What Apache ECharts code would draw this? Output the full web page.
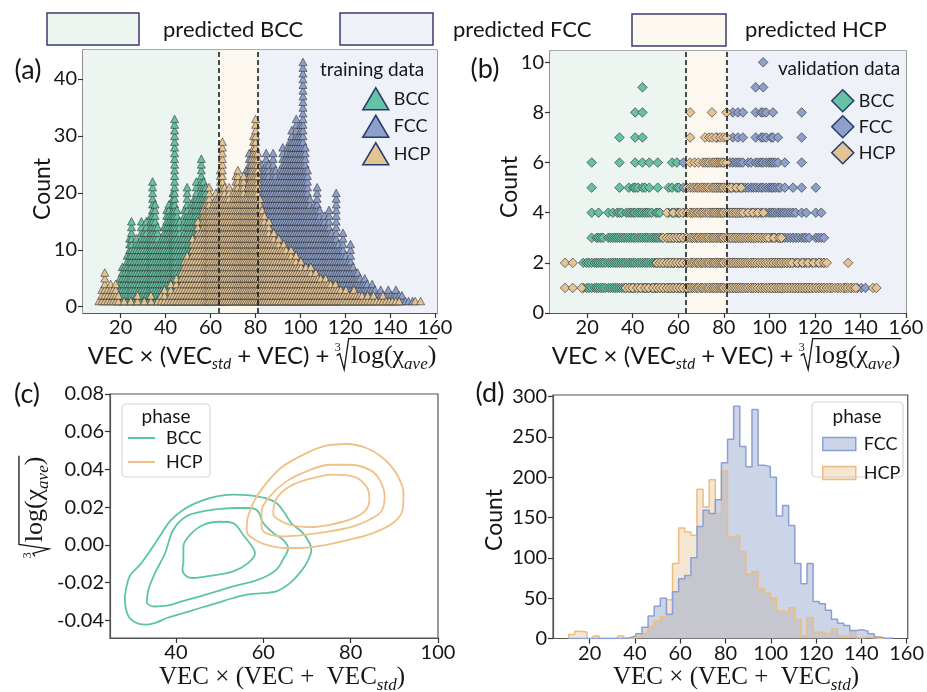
<!DOCTYPE html>
<html><head><meta charset="utf-8">
<script src="https://cdn.jsdelivr.net/npm/echarts/dist/echarts.min.js"></script>
<style>html,body{margin:0;padding:0;background:#fff}#c{width:927px;height:692px}</style>
</head><body><div id="c"></div>
<script>
// ---------------- DATA ----------------
// tick labels
const xTicksAB = [20,40,60,80,100,120,140,160];
const yTicksA = [0,10,20,30,40];
const yTicksB = [0,2,4,6,8,10];
const xTicksC = [40,60,80,100];
const yTicksC = [-0.04,-0.02,0,0.02,0.04,0.06,0.08];
const xTicksD = [20,40,60,80,100,120,140,160];
const yTicksD = [0,50,100,150,200,250,300];
const phaseBounds = [63.5, 81.2];
const phases = ['BCC','FCC','HCP'];

// (a) training data: [x value, count of samples stacked at that x]
const trainBCC = [[18.5,3],[19.6,5],[20.7,7],[21.8,7],[22.9,9],[24.0,12],[24.8,15],[25.9,10],[27.0,12],[28.1,11],[29.2,15],[30.3,13],[31.4,15],[32.5,12],[33.4,16],[34.2,22],[35.3,18],[36.4,14],[37.4,11],[38.4,12],[39.4,14],[40.5,17],[41.5,18],[42.5,16],[43.3,20],[44.0,33],[45.0,17],[46.2,15],[47.3,12],[48.4,17],[49.6,21],[50.6,16],[51.7,18],[52.8,19],[53.7,22],[54.8,19],[55.9,26],[56.9,22],[57.9,21],[59.0,15],[60.1,17],[61.2,16],[62.3,19],[63.4,11],[64.5,8],[65.6,5],[66.8,3],[68.0,2]];
const trainFCC = [[40,1],[44.5,2],[48,2],[52,3],[55,4],[58,5],[61,6],[64,8],[66,10],[68,11],[70,13],[71.5,15],[73,17],[74.5,20],[76,24],[77.3,27],[78.4,25],[79.5,28],[80.6,24],[81.6,22],[82.6,25],[83.7,24],[84.8,27],[85.9,25],[86.9,22],[87.9,27],[89.0,24],[90.0,22],[91.1,24],[92.2,28],[93.3,26],[94.3,28],[95.3,29],[96.2,31],[97.2,29],[98.2,33],[99.2,30],[100.2,32],[101.2,43],[102.2,28],[103.2,24],[104.2,19],[105.3,17],[106.4,18],[107.5,21],[108.6,17],[109.7,15],[110.8,16],[111.8,14],[112.8,17],[113.9,13],[115.0,12],[116.0,20],[117.0,11],[118.0,10],[119.0,13],[120.2,9],[121.3,8],[122.4,11],[123.5,7],[124.5,6],[125.5,6],[126.6,5],[127.7,4],[128.7,5],[129.8,4],[130.9,3],[132.0,4],[133.2,3],[134.5,2],[135.8,3],[137.0,2],[138.2,2],[139.2,3],[140.4,2],[141.6,2],[142.6,3],[144,2],[145.3,2],[146.8,1],[148.2,1],[150,1]];
const trainHCP = [[10.3,1],[11.6,3],[12.9,6],[14.2,3],[15.5,4],[16.6,3],[17.8,4],[19.0,2],[21.5,1],[24.5,1],[27.5,2],[30.5,1],[33.5,2],[36.5,1],[38,2],[39.5,3],[41,1],[42.3,4],[43.5,2],[44.8,5],[46,3],[47.2,6],[48.4,8],[49.6,9],[50.8,8],[52,12],[53.2,11],[54.4,15],[55.6,13],[56.8,17],[57.8,18],[58.7,19],[59.4,21],[60.4,17],[61.4,18],[62.4,20],[63.4,19],[64.4,24],[65.3,29],[66.3,21],[67.3,19],[68.3,21],[69.3,18],[70.3,20],[71.3,23],[72.2,24],[73.1,20],[74.0,22],[74.8,23],[75.7,19],[76.6,21],[77.5,23],[78.3,26],[79.2,30],[80.1,33],[81.0,27],[82.0,19],[83.0,17],[84.0,16],[85.0,14],[86.0,15],[87.1,12],[88.2,13],[89.3,11],[90.4,12],[91.5,10],[92.6,11],[93.7,10],[94.8,9],[95.9,10],[97.0,8],[98.1,9],[99.2,7],[100.3,8],[101.4,6],[102.5,7],[103.6,6],[104.7,7],[105.8,5],[106.9,6],[108.0,5],[109.1,5],[110.2,4],[111.3,5],[112.4,4],[113.5,4],[114.6,3],[115.7,4],[116.8,3],[118.0,3],[119.1,2],[120.3,3],[121.5,2],[122.7,2],[123.9,3],[125.1,2],[126.3,2],[127.5,2],[128.7,1],[130,2],[131.3,1],[132.6,2],[134,1],[135.4,1],[136.8,2],[138.2,1],[139.6,1],[141,1],[142.5,1],[144,1],[151.2,1],[153.6,1]];

// (b) validation data: [x value, count]
const validBCC = [[18.3,2],[19.8,2],[20.8,2],[22.0,6],[23.3,2],[24.2,3],[25.0,4],[26.0,3],[27.0,3],[28.0,2],[29.3,4],[30.3,3],[31.3,4],[32.3,3],[33.2,4],[34.2,7],[35.2,4],[36.2,3],[37.2,4],[38.3,5],[39.3,4],[40.3,5],[41.1,8],[42.3,5],[43.3,4],[44.3,9],[45.4,5],[46.3,4],[47.3,6],[48.4,4],[49.3,3],[50.2,4],[51.0,6],[52.0,4],[53.0,3],[54.0,2],[55.0,3],[55.8,5],[56.6,3],[57.3,6],[58.3,4],[59.4,6],[60.3,5],[61.2,3],[62.2,2],[63.3,2],[64.5,1]];
const validFCC = [[45.0,1],[50.0,1],[55.0,2],[58.0,2],[60.5,3],[62.3,6],[64.0,3],[66.0,4],[68.0,3],[70.0,4],[72.0,3],[74.0,4],[75.5,5],[77.0,7],[78.5,5],[80.0,6],[81.5,5],[82.8,6],[84.0,8],[85.2,6],[86.2,8],[87.3,6],[88.4,8],[89.5,5],[90.7,6],[92.0,6],[93.0,5],[94.0,9],[95.2,6],[96.4,8],[97.3,10],[98.6,8],[99.8,6],[100.8,7],[101.6,8],[102.6,6],[103.8,7],[104.8,5],[105.8,4],[106.8,6],[108.0,4],[109.2,4],[110.4,5],[111.6,4],[112.8,3],[114.2,8],[115.3,3],[116.2,4],[117.5,3],[118.8,2],[120.4,5],[121.6,3],[122.8,4],[124.0,3],[125.2,1],[127,1],[130,1],[133,1],[136,1],[138.6,1],[140.4,1],[142.2,1]];
const validHCP = [[10.3,2],[13.7,2],[17.6,1],[37,1],[38.5,1],[40,1],[42,1],[43.5,1],[45.5,1],[47,1],[49,1],[50.6,2],[52.0,2],[53.4,3],[55.0,4],[56.4,3],[57.8,4],[59.2,3],[60.6,4],[62.0,4],[63.8,5],[65.2,8],[66.3,5],[67.2,6],[68.2,5],[68.9,6],[70.0,5],[70.8,6],[71.8,7],[72.8,6],[73.6,7],[74.8,8],[75.6,6],[76.5,7],[77.5,6],[78.4,7],[79.2,6],[79.9,7],[81.2,8],[82.3,5],[83.3,5],[84.5,4],[85.5,5],[86.6,4],[87.6,5],[88.6,4],[89.7,3],[90.7,4],[91.8,3],[92.8,4],[93.8,3],[95.0,4],[96.2,3],[97.4,4],[98.5,3],[99.6,3],[100.8,2],[102,3],[103.2,2],[104.3,3],[105.3,3],[106.5,2],[107.6,2],[108.8,2],[110,2],[111.2,1],[112.4,2],[113.5,1],[114.6,2],[115.8,1],[117,2],[118.2,1],[119.4,2],[120.6,1],[121.8,2],[123,1],[124,2],[125.2,2],[126.4,1],[127.6,1],[128.8,1],[130,1],[131.2,1],[132.4,1],[133.6,1],[134.6,2],[135.8,1],[137,1],[138,1],[145.5,1],[147.0,1]];

// (c) KDE contour levels (closed rings of [x, y])
const bccOuter = [[28.3,-0.0272],[29.4,-0.0166],[31.8,-0.0104],[34.0,-0.0034],[36.3,0.0046],[38.6,0.0125],[41.7,0.0187],[45.5,0.0231],[49.3,0.0258],[53.1,0.0267],[56.9,0.0263],[60.3,0.0249],[63.0,0.0222],[64.9,0.0169],[66.4,0.0116],[69.1,0.0063],[70.6,0.0009],[71.0,-0.0025],[69.9,-0.0096],[68.3,-0.0149],[66.1,-0.0202],[63.0,-0.0246],[60.0,-0.0255],[56.2,-0.0263],[53.1,-0.0281],[49.3,-0.0308],[45.5,-0.0334],[41.7,-0.0361],[37.9,-0.0387],[35.6,-0.0410],[33.3,-0.0422],[31.4,-0.0417],[29.4,-0.0387],[28.5,-0.0334]];
const bccMiddle = [[33.3,-0.0308],[33.7,-0.0237],[35.2,-0.0149],[37.5,-0.0044],[39.4,0.0081],[42.4,0.0152],[46.2,0.0178],[50.1,0.0191],[53.9,0.0196],[56.9,0.0196],[58.8,0.0178],[60.0,0.0116],[62.3,0.0063],[64.5,0.0028],[65.7,-0.0018],[64.5,-0.0078],[63.0,-0.0131],[60.7,-0.0166],[57.7,-0.0193],[53.1,-0.0219],[49.3,-0.0246],[45.5,-0.0272],[41.3,-0.0299],[37.9,-0.0322],[34.9,-0.0326]];
const bccInner = [[41.7,-0.0096],[41.7,-0.0009],[43.2,0.0053],[46.2,0.0106],[50.1,0.0123],[53.1,0.0116],[55.4,0.0053],[57.7,-0.0018],[58.1,-0.0044],[56.5,-0.0096],[53.1,-0.0140],[48.5,-0.0161],[43.9,-0.0175],[42.4,-0.0166],[41.5,-0.0131]];
const hcpOuter = [[56.2,0.0081],[56.5,0.0152],[58.1,0.0240],[60.7,0.0328],[64.5,0.0417],[69.9,0.0487],[74.4,0.0526],[79.0,0.0535],[83.6,0.0514],[87.4,0.0461],[90.4,0.0381],[92.1,0.0275],[91.9,0.0187],[89.7,0.0116],[85.1,0.0063],[79.8,0.0028],[74.4,0.0001],[69.1,-0.0016],[65.3,-0.0016],[60.7,0.0001],[58.1,0.0028],[56.5,0.0055]];
const hcpMiddle = [[59.6,0.0099],[59.6,0.0178],[61.5,0.0258],[65.3,0.0337],[69.9,0.0390],[75.2,0.0425],[79.8,0.0425],[84.3,0.0399],[86.6,0.0346],[87.8,0.0258],[87.0,0.0178],[84.3,0.0134],[80.6,0.0099],[75.2,0.0072],[69.9,0.0055],[64.5,0.0046],[61.5,0.0055],[60.0,0.0072]];
const hcpInner = [[62.3,0.0187],[63.1,0.0249],[66.1,0.0311],[70.6,0.0350],[75.9,0.0373],[80.5,0.0364],[83.6,0.0311],[84.3,0.0240],[83.2,0.0178],[79.8,0.0134],[75.2,0.0107],[70.6,0.0095],[66.1,0.0107],[63.5,0.0134],[62.3,0.0161]];

// (d) histogram (common bins)
const histStart = 10.7, histWidth = 2.7;
const histFCC = [0,0,0,0,0,0,0,0,0, 1,3,6,14,28,40,50,30,58,74, 78,100,139,159,155,172,218,247,288,238, 213,284,215,213,200,152,165,140,93,68, 93,46,43,35,24,19,16,10,11,9, 6,2,0,0];
const histHCP = [5,9,8,0,3,0,0,0,3,0, 1,3,6,15,22,27,48,93,137,132, 128,185,163,197,155,208,126,128,108,80, 83,62,56,50,34,32,38,24,3,26, 8,7,5,12,3,2,9,1,2,1, 0,0,1];

// ---------------- STYLE ----------------
const C = {BCC:'#66c2a5', FCC:'#8da0cb', HCP:'#e5c494'};
const BG = {BCC:'#edf5f1', HCP:'#fcf8ef', FCC:'#eef1f8'};
const LINEC = {BCC:'#5cc6a0', HCP:'#f0c086'};
const TXT = '#161616';
const SANS = 'Lato';
const SERIF = '"Liberation Serif"';

function stackPoints(cols){ const out=[]; cols.forEach(([x,c])=>{ for(let k=1;k<=c;k++) out.push([x,k]); }); return out; }
function stepData(counts){
  const pts=[[histStart,0]];
  counts.forEach((c,i)=>pts.push([+(histStart+i*histWidth).toFixed(3), c]));
  const end = +(histStart+counts.length*histWidth).toFixed(3);
  pts.push([end, counts[counts.length-1]]); pts.push([end,0]);
  return pts;
}
const ring = r => r.concat([r[0]]);

function xAx(grid,min,max,ticks,fmt){
  return {type:'value', gridIndex:grid, min, max, splitLine:{show:false},
    axisLine:{show:true,onZero:false,lineStyle:{color:'#555',width:1.2}},
    axisTick:{show:true,length:5,customValues:ticks,lineStyle:{color:'#333',width:1.2}},
    axisLabel:{customValues:ticks,fontSize:20,fontFamily:SANS,color:TXT,margin:5,formatter:fmt||(v=>String(v))}};
}
function yAx(grid,min,max,ticks,fmt){
  const a = xAx(grid,min,max,ticks,fmt); a.axisLabel.margin=6; return a;
}

const grids = [
  {left:83, top:50, width:354, height:263},
  {left:550, top:51, width:356, height:262},
  {left:110, top:394, width:328, height:244},
  {left:553, top:395, width:355, height:243.5}
].map(g=>Object.assign(g,{show:true,borderColor:'#555',borderWidth:1.2,backgroundColor:'transparent'}));

const xRanges = [[3.2,160.9],[3.7,160],[24.9,100],[3.8,160.5]];
const yRanges = [[-1.1,45.1],[0,10.45],[-0.0493,0.08],[0,302]];

const xAxes = [xAx(0,...xRanges[0],xTicksAB), xAx(1,...xRanges[1],xTicksAB), xAx(2,...xRanges[2],xTicksC), xAx(3,...xRanges[3],xTicksD)];
const yAxes = [yAx(0,...yRanges[0],yTicksA), yAx(1,...yRanges[1],yTicksB), yAx(2,...yRanges[2],yTicksC,v=>v.toFixed(2)), yAx(3,...yRanges[3],yTicksD)];

const series = [];
// background regions + boundaries for (a) and (b)
[0,1].forEach(gi=>{
  const [x0,x1] = xRanges[gi];
  series.push({type:'scatter', xAxisIndex:gi, yAxisIndex:gi, data:[], z:1, silent:true,
    markArea:{silent:true, data:[
      [{xAxis:x0,itemStyle:{color:BG.BCC}},{xAxis:phaseBounds[0]}],
      [{xAxis:phaseBounds[0],itemStyle:{color:BG.HCP}},{xAxis:phaseBounds[1]}],
      [{xAxis:phaseBounds[1],itemStyle:{color:BG.FCC}},{xAxis:x1}]]}});
});
const trainSets = {BCC:trainBCC, FCC:trainFCC, HCP:trainHCP};
const validSets = {BCC:validBCC, FCC:validFCC, HCP:validHCP};
phases.forEach(p=>{
  series.push({name:'a-'+p, type:'scatter', xAxisIndex:0, yAxisIndex:0, data:stackPoints(trainSets[p]),
    symbol:'triangle', symbolSize:[8,7.5], large:false, progressive:0, z:2,
    itemStyle:{color:C[p], borderColor:'#333', borderWidth:0.6, opacity:1}});
});
phases.forEach(p=>{
  series.push({name:'b-'+p, type:'scatter', xAxisIndex:1, yAxisIndex:1, data:stackPoints(validSets[p]),
    symbol:'diamond', symbolSize:[9.5,9.5], large:false, progressive:0, z:2,
    itemStyle:{color:C[p], borderColor:'#3a3a3a', borderWidth:0.7, opacity:1}});
});
[0,1].forEach(gi=>{
  series.push({type:'scatter', xAxisIndex:gi, yAxisIndex:gi, data:[], z:6, silent:true,
    markLine:{silent:true, symbol:'none', label:{show:false},
      lineStyle:{color:'#111', width:1.5, type:[5,3]},
      data: phaseBounds.map(b=>({xAxis:b}))}});
});
// (c) contours
[['BCC',[bccOuter,bccMiddle,bccInner]],['HCP',[hcpOuter,hcpMiddle,hcpInner]]].forEach(([p,rings])=>{
  rings.forEach(r=>series.push({name:'c-'+p, type:'line', xAxisIndex:2, yAxisIndex:2, data:ring(r),
    smooth:0.35, symbol:'none', z:3, lineStyle:{color:LINEC[p], width:1.8}, itemStyle:{color:LINEC[p]}}));
});
// (d) step histograms
const FILL = {FCC:'rgba(141,160,203,0.45)', HCP:'rgba(229,196,148,0.42)'};
const STEPLINE = {FCC:'#8c9fd4', HCP:'#ebbd80'};
[['HCP',histHCP],['FCC',histFCC]].forEach(([p,h])=>{
  series.push({name:'d-'+p, type:'line', xAxisIndex:3, yAxisIndex:3, data:stepData(h), step:'end',
    symbol:'none', z:3, lineStyle:{color:STEPLINE[p], width:1.5}, itemStyle:{color:STEPLINE[p]},
    areaStyle:{color:FILL[p], opacity:1}});
});

// ---------------- TEXT / GRAPHIC ----------------
const mctx = document.createElement('canvas').getContext('2d');
function measure(t,font){ mctx.font=font; return mctx.measureText(t).width; }
function mathText(parts,cx,cy,rot,baseSize,radTop){
  let x=0; const items=[]; let radX=null, overEnd=null;
  parts.forEach(p=>{
    if(p.rad){ radX=x; x+=p.w; return; }
    const w=measure(p.t,p.font);
    items.push({t:p.t,font:p.font,x,size:p.size,dy:p.dy||0}); x+=w;
    if(p.over) overEnd=x;
  });
  const off=-x/2, base=0.36*baseSize;
  const ch = items.map(it=>({type:'text', style:{text:it.t, font:it.font, x:off+it.x, y:base+it.dy-0.3*it.size,
    fill:TXT, align:'left', verticalAlign:'middle', textAlign:'left', textVerticalAlign:'middle'}}));
  if(radX!==null){
    const rx=off+radX, top=base-radTop;
    ch.push({type:'polyline', shape:{points:[[rx+1,base-8],[rx+4,base-10],[rx+8.5,base+6],[rx+13,top],[off+overEnd+1,top]]},
      style:{stroke:TXT, lineWidth:1.3, fill:null}});
    ch.push({type:'text', style:{text:'3', font:'12px '+SERIF, x:rx-1, y:base-radTop+9, fill:TXT, align:'left', verticalAlign:'middle', textAlign:'left', textVerticalAlign:'middle'}});
  }
  return {type:'group', x:cx, y:cy, z:100, rotation:rot||0, children:ch};
}
function txt(t,x,y,font,align,rot){
  return {type:'text', x, y, z:100, rotation:rot||0, style:{text:t, font, fill:TXT, align:align||'center', verticalAlign:'middle', textAlign:align||'center', textVerticalAlign:'middle'}};
}

const titleAB = [
  {t:'VEC × (VEC', font:'24px '+SANS, size:24},
  {t:'std', font:'italic 15px '+SANS, size:15, dy:5},
  {t:' + VEC) + ', font:'24px '+SANS, size:24},
  {rad:true, w:15},
  {t:'log(χ', font:'26px '+SERIF, size:26, over:true},
  {t:'ave', font:'italic 17px '+SERIF, size:17, dy:6, over:true},
  {t:')', font:'26px '+SERIF, size:26, over:true}
];
const titleCD = [
  {t:'VEC × (VEC +  VEC', font:'25px '+SERIF, size:25},
  {t:'std', font:'italic 17px '+SERIF, size:17, dy:6},
  {t:')', font:'25px '+SERIF, size:25}
];
const titleCy = [
  {rad:true, w:15},
  {t:'log(χ', font:'26px '+SERIF, size:26, over:true},
  {t:'ave', font:'italic 17px '+SERIF, size:17, dy:6, over:true},
  {t:')', font:'26px '+SERIF, size:26, over:true}
];

const topLegend = [
  {label:'predicted BCC', color:BG.BCC, box:[47,13,92,32], tx:163},
  {label:'predicted FCC', color:BG.FCC, box:[340,13,93,32], tx:453},
  {label:'predicted HCP', color:BG.HCP, box:[632,14,94,32], tx:745}
];
const graphics = [];
topLegend.forEach(l=>{
  graphics.push({type:'rect', z:100, shape:{x:l.box[0],y:l.box[1],width:l.box[2],height:l.box[3]}, style:{fill:l.color, stroke:'#3b3a72', lineWidth:1.5}});
  graphics.push(txt(l.label, l.tx, 30, '22px '+SANS, 'left'));
});
graphics.push(txt('(a)',28,70,'27px '+SANS));
graphics.push(txt('(b)',485,69,'27px '+SANS));
graphics.push(txt('(c)',27,394,'27px '+SANS));
graphics.push(txt('(d)',490,393,'27px '+SANS));
graphics.push(txt('Count',43,189,'23px '+SANS,'center',Math.PI/2));
graphics.push(txt('Count',510,187,'23px '+SANS,'center',Math.PI/2));
graphics.push(txt('Count',495,520,'23px '+SANS,'center',Math.PI/2));
graphics.push(mathText(titleAB,262,355,0,24,25));
graphics.push(mathText(titleAB,726,355,0,24,25));
graphics.push(mathText(titleCD,282,676,0,25,0));
graphics.push(mathText(titleCD,736,676,0,25,0));
graphics.push(mathText(titleCy,33.6,507,Math.PI/2,26,24));
graphics.push(txt('training data',320,70,'19px '+SANS,'left'));
graphics.push(txt('validation data',778,69,'19px '+SANS,'left'));
// (c) legend box with line keys
graphics.push({type:'rect', z:50, shape:{x:122,y:404,width:88,height:73,r:4}, style:{fill:'rgba(255,255,255,0.85)', stroke:'#d6d6d6', lineWidth:1.2}});
graphics.push(txt('phase',166,417,'19px '+SANS));
[['BCC',438],['HCP',462]].forEach(([p,y])=>{
  graphics.push({type:'line', z:100, shape:{x1:128,y1:y,x2:155,y2:y}, style:{stroke:LINEC[p], lineWidth:2}});
  graphics.push(txt(p,166,y,'18px '+SANS,'left'));
});
// (d) legend box
graphics.push({type:'rect', z:50, shape:{x:812,y:402,width:91,height:75,r:4}, style:{fill:'rgba(255,255,255,0.85)', stroke:'#d6d6d6', lineWidth:1.2}});
graphics.push(txt('phase',857,417,'19px '+SANS));

const legendText = {fontSize:18, fontFamily:SANS, color:TXT};
const legends = [
  {left:357, top:82, orient:'vertical', itemWidth:26, itemHeight:22, itemGap:4, selectedMode:false, z:120,
   data:phases.map(p=>({name:'a-'+p, icon:'triangle', itemStyle:{borderColor:'#2b3a6b', borderWidth:1.5}})),
   formatter:n=>n.slice(2), textStyle:legendText},
  {left:826, top:84, orient:'vertical', itemWidth:22, itemHeight:22, itemGap:2.5, selectedMode:false, z:120,
   data:phases.map(p=>({name:'b-'+p, icon:'diamond', itemStyle:{borderColor:'#2b3a6b', borderWidth:1.5}})),
   formatter:n=>n.slice(2), textStyle:legendText},
  {left:817, top:430, orient:'vertical', itemWidth:33, itemHeight:13, itemGap:11, selectedMode:false, z:120,
   lineStyle:{width:0},
   data:['FCC','HCP'].map(p=>({name:'d-'+p, icon:'rect', itemStyle:{color:FILL[p], borderColor:STEPLINE[p], borderWidth:1.5}})),
   formatter:n=>n.slice(2), textStyle:Object.assign({padding:[0,0,0,3]},legendText)}
];

const chart = echarts.init(document.getElementById('c'), null, {renderer:'canvas'});
chart.setOption({
  animation:false,
  backgroundColor:'#fff',
  textStyle:{fontFamily:SANS},
  grid:grids, xAxis:xAxes, yAxis:yAxes, series, legend:legends,
  graphic:{elements:graphics}
});
</script></body></html>
